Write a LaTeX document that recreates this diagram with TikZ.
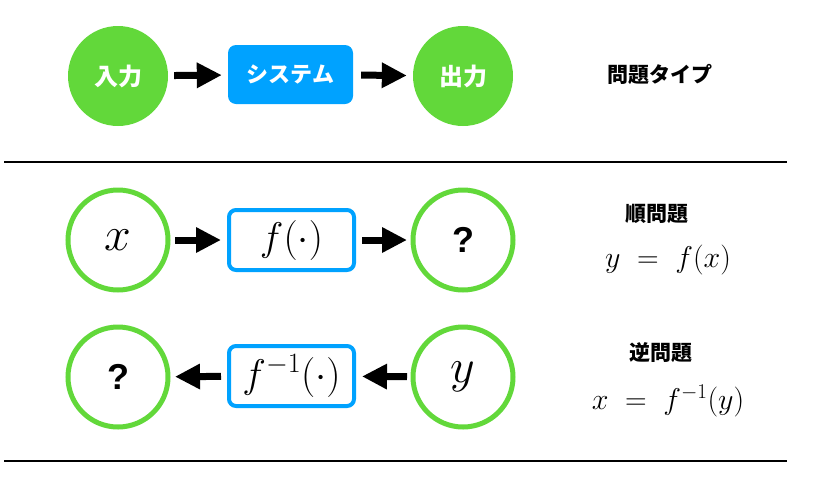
\RequirePackage{fix-cm}
\documentclass[tikz,border=0pt]{standalone}
\usepackage{fontspec}
\newfontfamily\jpfont{Noto Sans CJK JP}
\newfontfamily\qfont{Liberation Sans}
\usetikzlibrary{arrows.meta}
\definecolor{cgreen}{HTML}{62D83A}
\definecolor{cblue}{HTML}{00A2FF}
\tikzset{
  gfill/.style={circle, fill=cgreen, minimum size=100pt, inner sep=0pt, text=white,
    font=\jpfont\bfseries\fontsize{24}{24}\selectfont},
  gline/.style={circle, draw=cgreen, line width=5pt, minimum size=100pt, inner sep=0pt},
  bfill/.style={rectangle, rounded corners=8pt, fill=cblue, minimum width=125pt,
    minimum height=59pt, inner sep=0pt, text=white,
    font=\jpfont\bfseries\fontsize{22}{22}\selectfont},
  bline/.style={rectangle, rounded corners=7pt, draw=cblue, line width=4pt,
    minimum width=125pt, minimum height=60pt, inner sep=0pt,
    font=\fontsize{40}{40}\selectfont},
  varfont/.style={font=\fontsize{48}{48}\selectfont},
  qmark/.style={font=\qfont\bfseries\fontsize{36}{36}\selectfont},
  jplabel/.style={font=\jpfont\bfseries\fontsize{21}{21}\selectfont, inner sep=0pt},
  eqlabel/.style={font=\fontsize{30}{30}\selectfont, inner sep=0pt, anchor=base},
  arr/.style={line width=7pt, -{Triangle[length=25pt,width=24pt]},
    shorten <=6pt, shorten >=6pt},
  rule/.style={line width=2pt, black}
}
\begin{document}
\begin{tikzpicture}[x=1pt,y=-1pt]
\useasboundingbox (0,0) rectangle (840,480);
% top row
\node[gfill] (in) at (118,76) {入力};
\node[bfill] (sys) at (290.5,74.5) {システム};
\node[gfill] (out) at (463,76) {出力};
\node[jplabel] (type) at (660,74) {問題タイプ};
\draw[arr] (in) -- (sys);
\draw[arr, shorten <=8pt] (sys) -- (out);
% rule 1
\coordinate (r1a) at (4,162);
\coordinate (r1b) at (787,162);
\draw[rule] (r1a) -- (r1b);
% middle row
\node[gline, varfont] (x1) at (118,240) {$x$};
\node[bline] (f1) at (291.5,240) {$f(\cdot)$};
\node[gline, qmark] (q1) at (463,240) {?};
\draw[arr, shorten <=4.5pt] (x1) -- (f1);
\draw[arr, shorten >=3.5pt] (f1) -- (q1);
\node[jplabel] (fwd) at (657,214) {順問題};
\node[eqlabel] (eq1) at (668,267) {$y \;=\; f(x)$};
% bottom row
\node[gline, qmark] (q2) at (118,377) {?};
\node[bline] (f2) at (291.5,376) {$f^{-1}(\cdot)$};
\node[gline, varfont] (y2) at (463,377) {$y$};
\draw[arr, shorten >=4.5pt] (f2) -- (q2);
\draw[arr, shorten <=3.5pt] (y2) -- (f2);
\node[jplabel] (inv) at (661,353) {逆問題};
\node[eqlabel] (eq2) at (668,409) {$x \;=\; f^{-1}(y)$};
% rule 2
\coordinate (r2a) at (4,461);
\coordinate (r2b) at (787,461);
\draw[rule] (r2a) -- (r2b);
\end{tikzpicture}
\end{document}
